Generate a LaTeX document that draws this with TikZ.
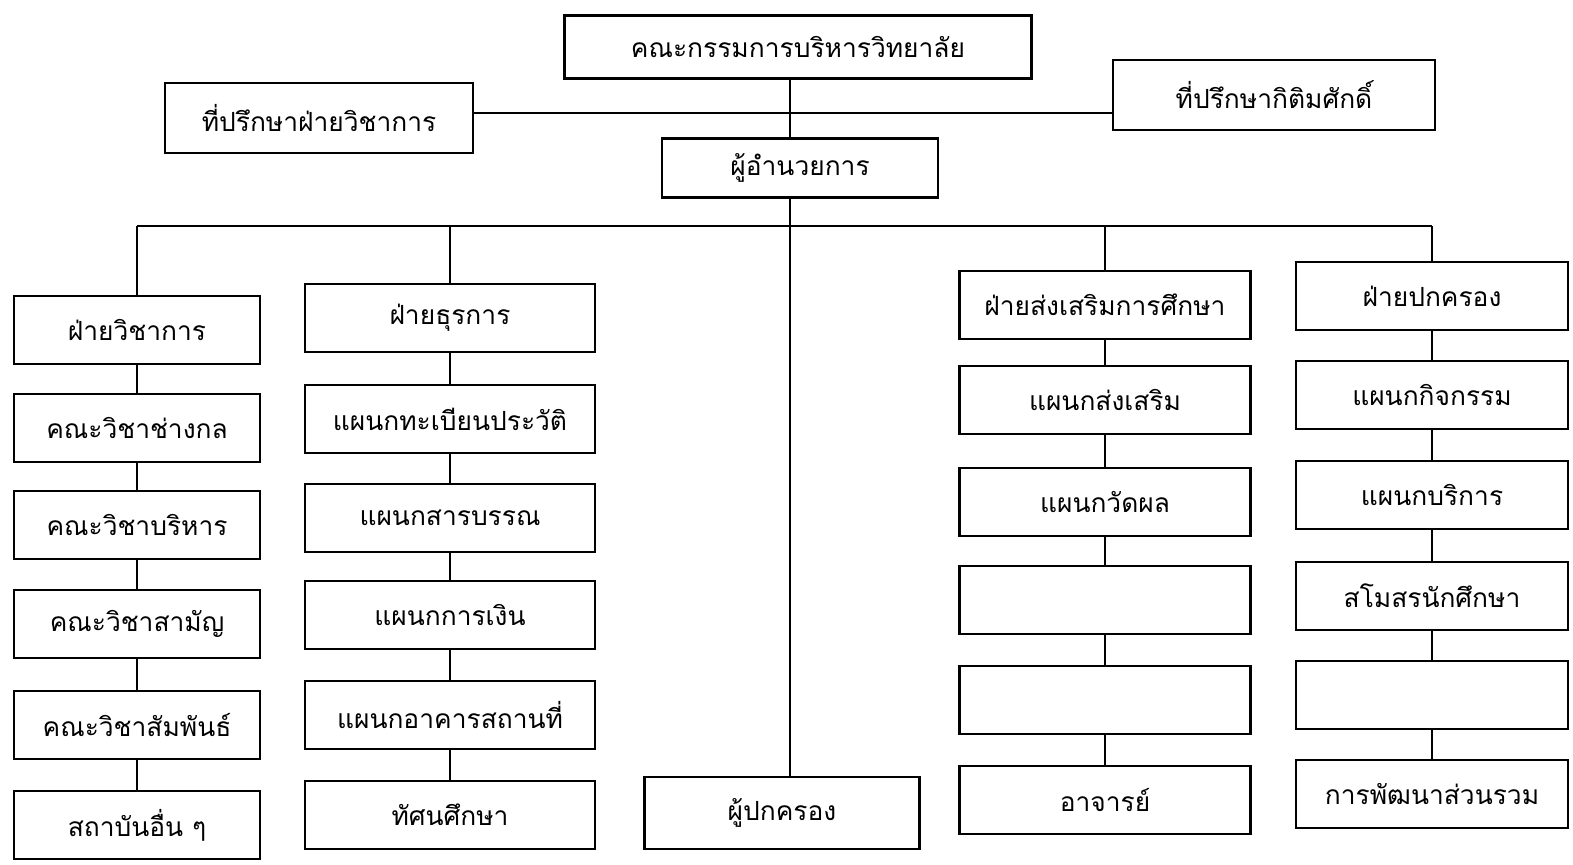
\documentclass[tikz,border=0pt]{standalone}
\usepackage{fontspec}
\newfontfamily\thaifont[Script=Thai]{Loma}
\begin{document}
\begin{tikzpicture}[x=0.1mm,y=-0.1mm,line width=0.6pt,
	unit/.style={draw, fill=white, line width=0.8pt, font=\thaifont\fontsize{7.5}{9}\selectfont, minimum height=6.8mm, inner sep=0pt},
	colA/.style={unit, minimum width=24.6mm},
	colB/.style={unit, minimum width=29mm},
	colC/.style={unit, minimum width=29.1mm},
	colD/.style={unit, minimum width=27.2mm}]
	\useasboundingbox (0,0) rectangle (1573,864);
	\node[unit, minimum width=46.7mm, minimum height=6.3mm] (board) at (798,47) {คณะกรรมการบริหารวิทยาลัย};
	\node[unit, minimum width=30.8mm, minimum height=7mm] (acadadv) at (319,118) {ที่ปรึกษาฝ่ายวิชาการ};
	\node[unit, minimum width=32.2mm, minimum height=7mm] (honadv) at (1274,95) {ที่ปรึกษากิติมศักดิ์};
	\node[unit, minimum width=27.6mm, minimum height=5.9mm] (director) at (800,168) {ผู้อำนวยการ};
	\node[unit, minimum width=27.5mm, minimum height=7.2mm] (parent) at (782,813) {ผู้ปกครอง};
	\coordinate (trunk) at (790,0);
	\coordinate (bus) at (0,226);

	\node[colA] (acad) at (137,330) {ฝ่ายวิชาการ};
	\node[colA] (mech) at (137,428) {คณะวิชาช่างกล};
	\node[colA] (mgmt) at (137,525) {คณะวิชาบริหาร};
	\node[colA] (gened) at (137,624) {คณะวิชาสามัญ};
	\node[colA] (rel) at (137,725) {คณะวิชาสัมพันธ์};
	\node[colA] (inst) at (137,825) {สถาบันอื่น ๆ};

	\node[colB] (gen) at (450,318) {ฝ่ายธุรการ};
	\node[colB] (reg) at (450,419) {แผนกทะเบียนประวัติ};
	\node[colB] (corr) at (450,518) {แผนกสารบรรณ};
	\node[colB] (fin) at (450,615) {แผนกการเงิน};
	\node[colB] (bldg) at (450,715) {แผนกอาคารสถานที่};
	\node[colB] (trip) at (450,815) {ทัศนศึกษา};

	\node[colC] (prom) at (1105,305) {ฝ่ายส่งเสริมการศึกษา};
	\node[colC] (promdep) at (1105,400) {แผนกส่งเสริม};
	\node[colC] (eval) at (1105,502) {แผนกวัดผล};
	\node[colC] (blankc1) at (1105,600) {};
	\node[colC] (blankc2) at (1105,700) {};
	\node[colC] (teach) at (1105,800) {อาจารย์};

	\node[colD] (gov) at (1432,296) {ฝ่ายปกครอง};
	\node[colD] (act) at (1432,395) {แผนกกิจกรรม};
	\node[colD] (serv) at (1432,495) {แผนกบริการ};
	\node[colD] (club) at (1432,596) {สโมสรนักศึกษา};
	\node[colD] (blankd) at (1432,695) {};
	\node[colD] (dev) at (1432,794) {การพัฒนาส่วนรวม};

	\draw (board.south -| trunk) -- (director.north -| trunk);
	\draw ([yshift=0.5mm]acadadv.east) -- ([yshift=0.5mm]acadadv.east -| honadv.west);
	\draw (director.south -| trunk) -- (parent.north -| trunk);
	\draw (bus -| acad) -- (bus -| gov);
	\foreach \top in {acad,gen,prom,gov}
		\draw (bus -| \top) -- (\top.north);
	\foreach \u/\v in {acad/mech,mech/mgmt,mgmt/gened,gened/rel,rel/inst,
		gen/reg,reg/corr,corr/fin,fin/bldg,bldg/trip,
		prom/promdep,promdep/eval,eval/blankc1,blankc1/blankc2,blankc2/teach,
		gov/act,act/serv,serv/club,club/blankd,blankd/dev}
		\draw (\u) -- (\v);
\end{tikzpicture}
\end{document}
